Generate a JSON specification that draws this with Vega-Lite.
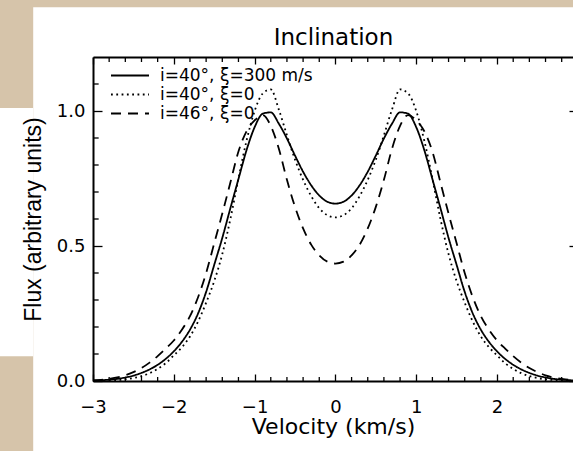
{
  "$schema": "https://vega.github.io/schema/vega-lite/v6.json",
  "width": 480,
  "height": 324,
  "autosize": {"type": "none"},
  "padding": {"left": 93, "top": 57, "right": 0, "bottom": 70},
  "background": "#d6c4aa",
  "config": {"view": {"stroke": null}, "font": "DejaVu Sans"},
  "resolve": {"axis": {"x": "independent", "y": "independent"}},
  "datasets": {
    "xminor": [{"t": -2.8}, {"t": -2.6}, {"t": -2.4}, {"t": -2.2}, {"t": -1.8}, {"t": -1.6}, {"t": -1.4}, {"t": -1.2}, {"t": -0.8}, {"t": -0.6}, {"t": -0.4}, {"t": -0.2}, {"t": 0.2}, {"t": 0.4}, {"t": 0.6}, {"t": 0.8}, {"t": 1.2}, {"t": 1.4}, {"t": 1.6}, {"t": 1.8}, {"t": 2.2}, {"t": 2.4}, {"t": 2.6}, {"t": 2.8}],
    "yminor": [{"u": 0.1}, {"u": 0.2}, {"u": 0.3}, {"u": 0.4}, {"u": 0.6}, {"u": 0.7}, {"u": 0.8}, {"u": 0.9}, {"u": 1.1}]
  },
  "layer": [
    {
      "data": {"values": [{}]},
      "mark": {"type": "rect", "color": "white"},
      "encoding": {
        "x": {"datum": -3.74, "type": "quantitative",
          "scale": {"domain": [-3, 2.94], "nice": false, "zero": false},
          "axis": {"orient": "top", "values": [-3, -2, -1, 0, 1, 2],
            "labels": false, "grid": false, "domain": true, "domainColor": "black", "domainWidth": 2,
            "tickColor": "black", "tickWidth": 1.3, "tickSize": -7,
            "title": "Inclination", "titleFontSize": 23, "titleFontWeight": "normal", "titleFont": "DejaVu Sans", "titleColor": "black", "titlePadding": 6.5,
            "zindex": 1}},
        "x2": {"datum": 3.5},
        "y": {"datum": 1.384, "type": "quantitative",
          "scale": {"domain": [0, 1.2], "nice": false, "zero": false},
          "axis": {"orient": "right", "values": [0, 0.5, 1], "labels": false, "title": null, "grid": false, "domain": false,
            "tickColor": "black", "tickWidth": 1.3, "tickSize": -4, "zindex": 1}},
        "y2": {"datum": -0.5}
      }
    },
    {
      "data": {"values": [{}]},
      "mark": {"type": "rect", "color": "white"},
      "encoding": {
        "x": {"datum": -4.2, "type": "quantitative", "axis": null},
        "x2": {"datum": -3.74},
        "y": {"datum": 1.011, "type": "quantitative", "axis": null},
        "y2": {"datum": 0.092}
      }
    },
    {
      "data": {"name": "xminor"},
      "mark": {"type": "rule", "color": "black", "strokeWidth": 1.3},
      "encoding": {
        "x": {"field": "t", "type": "quantitative", "axis": null},
        "y": {"datum": 0, "type": "quantitative", "axis": null},
        "y2": {"datum": 0.0148}
      }
    },
    {
      "data": {"name": "xminor"},
      "mark": {"type": "rule", "color": "black", "strokeWidth": 1.3},
      "encoding": {
        "x": {"field": "t", "type": "quantitative", "axis": null},
        "y": {"datum": 1.2, "type": "quantitative", "axis": null},
        "y2": {"datum": 1.1815}
      }
    },
    {
      "data": {"name": "yminor"},
      "mark": {"type": "rule", "color": "black", "strokeWidth": 1.3},
      "encoding": {
        "y": {"field": "u", "type": "quantitative", "axis": null},
        "x": {"datum": -3, "type": "quantitative", "axis": null},
        "x2": {"datum": -2.93}
      }
    },
    {
      "data": {"values": [
        {"v": -3.0, "a": 0.002, "b": 0.0005, "c": 0.002},
        {"v": -2.9, "a": 0.003, "b": 0.001, "c": 0.004},
        {"v": -2.8, "a": 0.005, "b": 0.002, "c": 0.008},
        {"v": -2.7, "a": 0.008, "b": 0.0035, "c": 0.013},
        {"v": -2.6, "a": 0.013, "b": 0.006, "c": 0.021},
        {"v": -2.5, "a": 0.02, "b": 0.011, "c": 0.033},
        {"v": -2.4, "a": 0.03, "b": 0.018, "c": 0.048},
        {"v": -2.3, "a": 0.043, "b": 0.029, "c": 0.068},
        {"v": -2.2, "a": 0.06, "b": 0.045, "c": 0.092},
        {"v": -2.1, "a": 0.082, "b": 0.066, "c": 0.12},
        {"v": -2.0, "a": 0.11, "b": 0.095, "c": 0.15},
        {"v": -1.9, "a": 0.145, "b": 0.125, "c": 0.19},
        {"v": -1.8, "a": 0.19, "b": 0.165, "c": 0.24},
        {"v": -1.7, "a": 0.25, "b": 0.22, "c": 0.31},
        {"v": -1.6, "a": 0.33, "b": 0.29, "c": 0.40},
        {"v": -1.5, "a": 0.43, "b": 0.37, "c": 0.51},
        {"v": -1.4, "a": 0.53, "b": 0.47, "c": 0.62},
        {"v": -1.3, "a": 0.64, "b": 0.60, "c": 0.735},
        {"v": -1.2, "a": 0.748, "b": 0.75, "c": 0.85},
        {"v": -1.1, "a": 0.855, "b": 0.89, "c": 0.925},
        {"v": -1.0, "a": 0.94, "b": 1.0, "c": 0.965},
        {"v": -0.9, "a": 0.99, "b": 1.065, "c": 0.985},
        {"v": -0.8, "a": 0.995, "b": 1.08, "c": 0.945},
        {"v": -0.7, "a": 0.953, "b": 1.005, "c": 0.86},
        {"v": -0.6, "a": 0.898, "b": 0.91, "c": 0.745},
        {"v": -0.5, "a": 0.835, "b": 0.82, "c": 0.645},
        {"v": -0.4, "a": 0.775, "b": 0.745, "c": 0.565},
        {"v": -0.3, "a": 0.725, "b": 0.685, "c": 0.505},
        {"v": -0.2, "a": 0.687, "b": 0.64, "c": 0.465},
        {"v": -0.1, "a": 0.664, "b": 0.614, "c": 0.442},
        {"v": 0.0, "a": 0.657, "b": 0.606, "c": 0.435},
        {"v": 0.1, "a": 0.664, "b": 0.614, "c": 0.442},
        {"v": 0.2, "a": 0.687, "b": 0.64, "c": 0.465},
        {"v": 0.3, "a": 0.725, "b": 0.685, "c": 0.505},
        {"v": 0.4, "a": 0.775, "b": 0.745, "c": 0.565},
        {"v": 0.5, "a": 0.835, "b": 0.82, "c": 0.645},
        {"v": 0.6, "a": 0.898, "b": 0.91, "c": 0.745},
        {"v": 0.7, "a": 0.953, "b": 1.005, "c": 0.86},
        {"v": 0.8, "a": 0.995, "b": 1.08, "c": 0.945},
        {"v": 0.9, "a": 0.99, "b": 1.065, "c": 0.985},
        {"v": 1.0, "a": 0.94, "b": 1.0, "c": 0.965},
        {"v": 1.1, "a": 0.855, "b": 0.89, "c": 0.925},
        {"v": 1.2, "a": 0.748, "b": 0.75, "c": 0.85},
        {"v": 1.3, "a": 0.64, "b": 0.60, "c": 0.735},
        {"v": 1.4, "a": 0.53, "b": 0.47, "c": 0.62},
        {"v": 1.5, "a": 0.43, "b": 0.37, "c": 0.51},
        {"v": 1.6, "a": 0.33, "b": 0.29, "c": 0.40},
        {"v": 1.7, "a": 0.25, "b": 0.22, "c": 0.31},
        {"v": 1.8, "a": 0.19, "b": 0.165, "c": 0.24},
        {"v": 1.9, "a": 0.145, "b": 0.125, "c": 0.19},
        {"v": 2.0, "a": 0.11, "b": 0.095, "c": 0.15},
        {"v": 2.1, "a": 0.082, "b": 0.066, "c": 0.12},
        {"v": 2.2, "a": 0.06, "b": 0.045, "c": 0.092},
        {"v": 2.3, "a": 0.043, "b": 0.029, "c": 0.068},
        {"v": 2.4, "a": 0.03, "b": 0.018, "c": 0.048},
        {"v": 2.5, "a": 0.02, "b": 0.011, "c": 0.033},
        {"v": 2.6, "a": 0.013, "b": 0.006, "c": 0.021},
        {"v": 2.7, "a": 0.008, "b": 0.0035, "c": 0.013},
        {"v": 2.8, "a": 0.005, "b": 0.002, "c": 0.008},
        {"v": 2.9, "a": 0.003, "b": 0.001, "c": 0.004},
        {"v": 3.0, "a": 0.002, "b": 0.0005, "c": 0.002}
      ]},
      "transform": [{"fold": ["a", "b", "c"], "as": ["series", "flux"]}],
      "mark": {"type": "line", "color": "black", "strokeWidth": 1.8, "interpolate": "monotone", "strokeCap": "butt"},
      "encoding": {
        "x": {"field": "v", "type": "quantitative",
          "scale": {"domain": [-3, 2.94], "nice": false, "zero": false},
          "axis": {"orient": "bottom", "values": [-3, -2, -1, 0, 1, 2], "format": "d",
            "labelOverlap": false, "labelFlush": false, "labelFontSize": 18, "labelColor": "black", "labelPadding": 24,
            "title": "Velocity (km/s)", "titleFontSize": 22, "titleFontWeight": "normal", "titleColor": "black", "titlePadding": 0,
            "grid": false, "domain": true, "domainColor": "black", "domainWidth": 2,
            "tickColor": "black", "tickWidth": 1.3, "tickSize": -7, "zindex": 1}},
        "y": {"field": "flux", "type": "quantitative",
          "scale": {"domain": [0, 1.2], "nice": false, "zero": false},
          "axis": {"orient": "left", "values": [0, 0.5, 1], "format": ".1f",
            "labelOverlap": false, "labelFlush": false, "labelFontSize": 18, "labelColor": "black", "labelPadding": 17,
            "title": "Flux (arbitrary units)", "titleFont": "Liberation Sans", "titleFontSize": 23, "titleFontWeight": "normal", "titleColor": "black", "titlePadding": 11,
            "grid": false, "domain": true, "domainColor": "black", "domainWidth": 2,
            "tickColor": "black", "tickWidth": 1.3, "tickSize": -9, "zindex": 1}},
        "strokeDash": {"field": "series", "type": "nominal",
          "scale": {"domain": ["a", "b", "c"], "range": [[1, 0], [1.8, 3.5], [10, 7]]},
          "legend": {"orient": "none", "legendX": 26.5, "legendY": 8, "title": null, "symbolType": "M-2,0H2", "symbolSize": 361,
            "symbolStrokeWidth": 1.8, "symbolStrokeColor": "black", "symbolFillColor": "transparent", "labelFontSize": 17, "labelColor": "black",
            "labelOffset": 19.5, "rowPadding": -1.5, "padding": 0, "labelLimit": 300,
            "labelExpr": "datum.label == 'a' ? 'i=40°, ξ=300 m/s' : datum.label == 'b' ? 'i=40°, ξ=0' : 'i=46°, ξ=0'"}}
      }
    }
  ]
}
